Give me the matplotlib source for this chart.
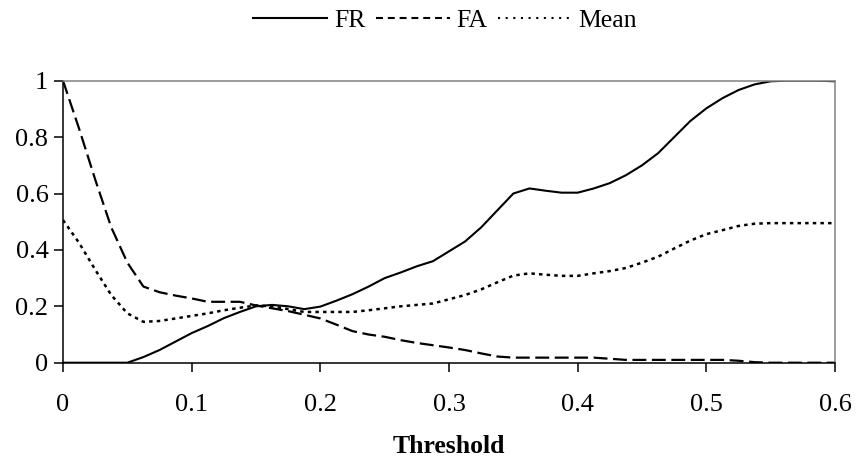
import matplotlib
matplotlib.use("Agg")
import matplotlib.pyplot as plt
from matplotlib.lines import Line2D

plt.rcParams['font.family'] = ['Liberation Serif', 'DejaVu Serif']
plt.rcParams['lines.scale_dashes'] = False

threshold = [0, 0.0125, 0.025, 0.0375, 0.05, 0.0625, 0.075, 0.0875, 0.1, 0.1125,
             0.125, 0.1375, 0.15, 0.1625, 0.175, 0.1875, 0.2, 0.2125, 0.225, 0.2375,
             0.25, 0.2625, 0.275, 0.2875, 0.3, 0.3125, 0.325, 0.3375, 0.35, 0.3625,
             0.375, 0.3875, 0.4, 0.4125, 0.425, 0.4375, 0.45, 0.4625, 0.475, 0.4875,
             0.5, 0.5125, 0.525, 0.5375, 0.55, 0.5625, 0.575, 0.5875, 0.6]

fr = [0, 0, 0, 0, 0, 0.02, 0.045, 0.075, 0.105, 0.13,
      0.158, 0.18, 0.2, 0.205, 0.2, 0.19, 0.199, 0.22, 0.243, 0.27,
      0.3, 0.32, 0.342, 0.36, 0.395, 0.43, 0.48, 0.54, 0.6, 0.618,
      0.61, 0.603, 0.603, 0.618, 0.637, 0.665, 0.70, 0.743, 0.80, 0.857,
      0.902, 0.938, 0.967, 0.987, 0.998, 1.0, 1.0, 1.0, 0.998]

fa = [1.0, 0.83, 0.65, 0.48, 0.355, 0.27, 0.25, 0.238, 0.228, 0.216,
      0.216, 0.216, 0.203, 0.193, 0.183, 0.17, 0.157, 0.135, 0.112, 0.10,
      0.092, 0.08, 0.07, 0.062, 0.054, 0.045, 0.033, 0.022, 0.018, 0.018,
      0.018, 0.018, 0.018, 0.018, 0.014, 0.01, 0.01, 0.01, 0.01, 0.01,
      0.01, 0.01, 0.007, 0.002, 0, 0, 0, 0, 0]

mean = [0.506, 0.425, 0.33, 0.24, 0.175, 0.145, 0.148, 0.157, 0.166, 0.175,
        0.186, 0.195, 0.203, 0.2, 0.19, 0.18, 0.18, 0.18, 0.18, 0.186,
        0.193, 0.2, 0.205, 0.21, 0.225, 0.24, 0.26, 0.285, 0.309, 0.317,
        0.312, 0.308, 0.308, 0.317, 0.325, 0.336, 0.355, 0.376, 0.405, 0.433,
        0.456, 0.47, 0.485, 0.493, 0.495, 0.495, 0.495, 0.495, 0.495]

xticks = [0, 0.1, 0.2, 0.3, 0.4, 0.5, 0.6]
xticklabels = ['0', '0.1', '0.2', '0.3', '0.4', '0.5', '0.6']
yticks = [0, 0.2, 0.4, 0.6, 0.8, 1.0]
yticklabels = ['0', '0.2', '0.4', '0.6', '0.8', '1']

fig = plt.figure(figsize=(8.56, 4.61), dpi=100)
ax = fig.add_axes([0.0736, 0.2132, 0.9019, 0.6117])

ax.plot(threshold, fr, color='black', lw=1.5, solid_joinstyle='round')
ax.plot(threshold, fa, color='black', lw=1.6, dashes=(10, 4))
ax.plot(threshold, mean, color='black', lw=1.8, dashes=(2.5, 3))

ax.set_xlim(0, 0.6)
ax.set_ylim(0, 1)
ax.set_xticks(xticks)
ax.set_xticklabels(xticklabels)
ax.set_yticks(yticks)
ax.set_yticklabels(yticklabels)
ax.tick_params(axis='both', labelsize=19, direction='out', length=6.5, width=1.1, color='black')
ax.tick_params(axis='x', pad=16)
ax.tick_params(axis='y', pad=4)

for s in ['left', 'bottom']:
    ax.spines[s].set_color('black')
    ax.spines[s].set_linewidth(1.1)
for s in ['top', 'right']:
    ax.spines[s].set_color('#808080')
    ax.spines[s].set_linewidth(1.1)

ax.set_xlabel('Threshold', fontsize=18.5, fontweight='bold', labelpad=14)

handles = [Line2D([], [], color='black', lw=1.5),
           Line2D([], [], color='black', lw=1.5, dashes=(5, 3.5)),
           Line2D([], [], color='black', lw=1.5, dashes=(1.5, 4))]
fig.legend(handles, ['FR', 'FA', 'Mean'], loc='center', bbox_to_anchor=(0.52, 0.955),
           ncol=3, frameon=False, fontsize=18.5, handlelength=2.9, handletextpad=0.25,
           columnspacing=0.4, borderpad=0, borderaxespad=0)

fig.savefig('out.png', dpi=100)
